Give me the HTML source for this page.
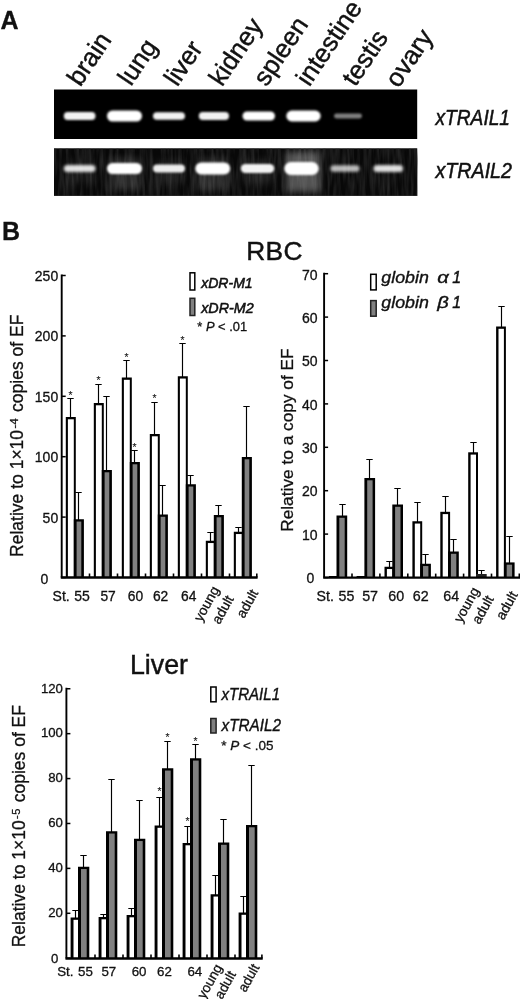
<!DOCTYPE html>
<html lang="en"><head><meta charset="utf-8"><title>Figure</title>
<style>html,body{margin:0;padding:0;background:#fff;overflow:hidden}svg{display:block}text{font-family:"Liberation Sans", sans-serif;fill:#111;stroke:#111;stroke-width:.3px}.h{stroke-width:.45px}</style>
</head><body>
<svg width="520" height="999" viewBox="0 0 520 999">
<defs><filter id="b1" x="-20%" y="-60%" width="140%" height="220%"><feGaussianBlur stdDeviation="1.3"/></filter><filter id="b2" x="-20%" y="-80%" width="140%" height="260%"><feGaussianBlur stdDeviation="1.6"/></filter><filter id="b3" x="-30%" y="-30%" width="160%" height="160%"><feGaussianBlur stdDeviation="3.5"/></filter><filter id="nz" x="0" y="0" width="100%" height="100%" color-interpolation-filters="sRGB"><feTurbulence type="fractalNoise" baseFrequency="0.3 0.035" numOctaves="2" seed="7"/><feColorMatrix type="matrix" values="0 0 0 0 0.22  0 0 0 0 0.22  0 0 0 0 0.22  1.2 0 0 0 -0.4"/></filter></defs>
<rect width="520" height="999" fill="#fff"/>
<text x="0.4" y="29.4" font-size="25" font-weight="bold">A</text>
<text x="1.9" y="240" font-size="25" font-weight="bold">B</text>
<text x="80.3" y="87.5" font-size="25.8" transform="rotate(-56 80.3 87.5)" class="h">brain</text>
<text x="131" y="87" font-size="25.8" transform="rotate(-56 131 87)" class="h">lung</text>
<text x="177.2" y="87.5" font-size="25.8" transform="rotate(-56 177.2 87.5)" class="h">liver</text>
<text x="222" y="87.5" font-size="25.8" transform="rotate(-56 222 87.5)" class="h">kidney</text>
<text x="266.5" y="87.5" font-size="25.8" transform="rotate(-56 266.5 87.5)" class="h">spleen</text>
<text x="309.3" y="87.5" font-size="25.8" transform="rotate(-56 309.3 87.5)" class="h">intestine</text>
<text x="355.3" y="87.5" font-size="25.8" transform="rotate(-56 355.3 87.5)" class="h">testis</text>
<text x="398.6" y="89" font-size="25.8" transform="rotate(-56 398.6 89)" class="h">ovary</text>
<rect x="54" y="89.5" width="363.2" height="49.5" fill="#000"/>
<rect x="54" y="148.3" width="363.2" height="47.6" fill="#080808"/>
<rect x="54" y="148.3" width="363.2" height="47.6" filter="url(#nz)"/>
<clipPath id="g2"><rect x="54" y="148" width="363.5" height="48"/></clipPath>
<g clip-path="url(#g2)">
<rect x="286" y="152" width="34" height="40" fill="#fff" opacity="0.3" filter="url(#b3)"/>
<rect x="109" y="158" width="32" height="32" fill="#fff" opacity="0.13" filter="url(#b3)"/>
<rect x="197" y="158" width="32" height="32" fill="#fff" opacity="0.13" filter="url(#b3)"/>
<rect x="243" y="160" width="30" height="24" fill="#fff" opacity="0.08" filter="url(#b3)"/>
<rect x="66" y="160" width="28" height="24" fill="#fff" opacity="0.05" filter="url(#b3)"/>
<rect x="155" y="160" width="29" height="24" fill="#fff" opacity="0.06" filter="url(#b3)"/>
</g>
<rect x="63.8" y="112.1" width="31.700000000000003" height="7.8" rx="3.9" fill="#fff" opacity="0.95" filter="url(#b1)"/>
<rect x="107" y="110.5" width="35" height="11" rx="5.5" fill="#fff" opacity="1" filter="url(#b1)"/>
<rect x="153" y="112.2" width="32" height="7.6" rx="3.8" fill="#fff" opacity="0.95" filter="url(#b1)"/>
<rect x="198.8" y="112.0" width="30.19999999999999" height="8" rx="4.0" fill="#fff" opacity="0.95" filter="url(#b1)"/>
<rect x="242.5" y="111.4" width="32.5" height="9.2" rx="4.6" fill="#fff" opacity="1" filter="url(#b1)"/>
<rect x="286.3" y="110.6" width="34.39999999999998" height="10.8" rx="5.4" fill="#fff" opacity="1" filter="url(#b1)"/>
<rect x="334" y="113.6" width="28" height="4.8" rx="2.4" fill="#fff" opacity="0.5" filter="url(#b1)"/>
<rect x="63.8" y="164.90" width="31.70" height="7.20" rx="3.60" fill="#fff" opacity="0.87" filter="url(#b2)"/>
<rect x="107" y="163.00" width="35.00" height="11.00" rx="5.50" fill="#fff" opacity="1.00" filter="url(#b1)"/>
<rect x="153" y="164.40" width="32.00" height="8.20" rx="4.10" fill="#fff" opacity="0.92" filter="url(#b1)"/>
<rect x="195.3" y="162.50" width="34.90" height="12.00" rx="6.00" fill="#fff" opacity="1.00" filter="url(#b1)"/>
<rect x="240.8" y="163.90" width="33.50" height="9.20" rx="4.60" fill="#fff" opacity="0.95" filter="url(#b1)"/>
<rect x="284.3" y="162.00" width="34.40" height="13.00" rx="6.50" fill="#fff" opacity="1.00" filter="url(#b1)"/>
<rect x="330.5" y="165.30" width="29.00" height="6.40" rx="3.20" fill="#fff" opacity="0.72" filter="url(#b2)"/>
<rect x="373.5" y="164.90" width="29.50" height="7.20" rx="3.60" fill="#fff" opacity="0.87" filter="url(#b2)"/>
<text x="435.5" y="125.2" font-size="21.5" font-style="italic" textLength="74.5" lengthAdjust="spacingAndGlyphs" style="stroke-width:0.5px">xTRAIL1</text>
<text x="435.5" y="177.7" font-size="21.5" font-style="italic" textLength="76.5" lengthAdjust="spacingAndGlyphs" style="stroke-width:0.5px">xTRAIL2</text>
<path d="M70.50 418.00V398.50M67.30 398.50H73.70" stroke="#000" stroke-width="1.15" fill="none"/>
<text x="70.5" y="398.9" font-size="10.3" text-anchor="middle" style="stroke-width:0.1px">*</text>
<path d="M78.50 520.25V492.50M75.30 492.50H81.70" stroke="#000" stroke-width="1.15" fill="none"/>
<rect x="65.80" y="417.00" width="10.00" height="160.50" fill="#000"/>
<rect x="67.90" y="419.30" width="5.90" height="158.20" fill="#fff"/>
<rect x="73.80" y="519.25" width="10.10" height="58.25" fill="#000"/>
<rect x="76.60" y="521.55" width="4.70" height="55.95" fill="#808080"/>
<path d="M98.50 404.00V384.50M95.30 384.50H101.70" stroke="#000" stroke-width="1.15" fill="none"/>
<text x="98.5" y="383.9" font-size="10.3" text-anchor="middle" style="stroke-width:0.1px">*</text>
<path d="M106.50 471.00V396.50M103.30 396.50H109.70" stroke="#000" stroke-width="1.15" fill="none"/>
<rect x="93.80" y="403.00" width="10.00" height="174.50" fill="#000"/>
<rect x="95.90" y="405.30" width="5.90" height="172.20" fill="#fff"/>
<rect x="101.80" y="470.00" width="10.10" height="107.50" fill="#000"/>
<rect x="104.60" y="472.30" width="4.70" height="105.20" fill="#808080"/>
<path d="M126.50 378.50V360.50M123.30 360.50H129.70" stroke="#000" stroke-width="1.15" fill="none"/>
<text x="126.5" y="360.65" font-size="10.3" text-anchor="middle" style="stroke-width:0.1px">*</text>
<path d="M134.50 463.00V450.50M131.30 450.50H137.70" stroke="#000" stroke-width="1.15" fill="none"/>
<text x="134.5" y="450.9" font-size="10.3" text-anchor="middle" style="stroke-width:0.1px">*</text>
<rect x="121.80" y="377.50" width="10.00" height="200.00" fill="#000"/>
<rect x="123.90" y="379.80" width="5.90" height="197.70" fill="#fff"/>
<rect x="129.80" y="462.00" width="10.10" height="115.50" fill="#000"/>
<rect x="132.60" y="464.30" width="4.70" height="113.20" fill="#808080"/>
<path d="M154.50 435.00V402.50M151.30 402.50H157.70" stroke="#000" stroke-width="1.15" fill="none"/>
<text x="154.5" y="402.4" font-size="10.3" text-anchor="middle" style="stroke-width:0.1px">*</text>
<path d="M162.50 515.50V485.50M159.30 485.50H165.70" stroke="#000" stroke-width="1.15" fill="none"/>
<rect x="149.80" y="434.00" width="10.00" height="143.50" fill="#000"/>
<rect x="151.90" y="436.30" width="5.90" height="141.20" fill="#fff"/>
<rect x="157.80" y="514.50" width="10.10" height="63.00" fill="#000"/>
<rect x="160.60" y="516.80" width="4.70" height="60.70" fill="#808080"/>
<path d="M182.50 377.25V343.50M179.30 343.50H185.70" stroke="#000" stroke-width="1.15" fill="none"/>
<text x="182.5" y="343.65" font-size="10.3" text-anchor="middle" style="stroke-width:0.1px">*</text>
<path d="M190.50 485.25V475.50M187.30 475.50H193.70" stroke="#000" stroke-width="1.15" fill="none"/>
<rect x="177.80" y="376.25" width="10.00" height="201.25" fill="#000"/>
<rect x="179.90" y="378.55" width="5.90" height="198.95" fill="#fff"/>
<rect x="185.80" y="484.25" width="10.10" height="93.25" fill="#000"/>
<rect x="188.60" y="486.55" width="4.70" height="90.95" fill="#808080"/>
<path d="M210.50 541.75V532.50M207.30 532.50H213.70" stroke="#000" stroke-width="1.15" fill="none"/>
<path d="M218.50 516.00V505.50M215.30 505.50H221.70" stroke="#000" stroke-width="1.15" fill="none"/>
<rect x="205.80" y="540.75" width="10.00" height="36.75" fill="#000"/>
<rect x="207.90" y="543.05" width="5.90" height="34.45" fill="#fff"/>
<rect x="213.80" y="515.00" width="10.10" height="62.50" fill="#000"/>
<rect x="216.60" y="517.30" width="4.70" height="60.20" fill="#808080"/>
<path d="M238.50 532.75V527.50M235.30 527.50H241.70" stroke="#000" stroke-width="1.15" fill="none"/>
<path d="M246.50 458.00V406.50M243.30 406.50H249.70" stroke="#000" stroke-width="1.15" fill="none"/>
<rect x="233.80" y="531.75" width="10.00" height="45.75" fill="#000"/>
<rect x="235.90" y="534.05" width="5.90" height="43.45" fill="#fff"/>
<rect x="241.80" y="457.00" width="10.10" height="120.50" fill="#000"/>
<rect x="244.60" y="459.30" width="4.70" height="118.20" fill="#808080"/>
<path d="M61.7 274.6V577.5" stroke="#000" stroke-width="1.9" fill="none"/>
<path d="M60.75 577.5H257.6" stroke="#000" stroke-width="2.4" fill="none"/>
<path d="M89.5 577.5v-4" stroke="#000" stroke-width="1.6" fill="none"/>
<path d="M117.5 577.5v-4" stroke="#000" stroke-width="1.6" fill="none"/>
<path d="M145.5 577.5v-4" stroke="#000" stroke-width="1.6" fill="none"/>
<path d="M173.5 577.5v-4" stroke="#000" stroke-width="1.6" fill="none"/>
<path d="M201.5 577.5v-4" stroke="#000" stroke-width="1.6" fill="none"/>
<path d="M229.5 577.5v-4" stroke="#000" stroke-width="1.6" fill="none"/>
<path d="M256.8 577.5v-4" stroke="#000" stroke-width="1.6" fill="none"/>
<path d="M61.7 577.50h4" stroke="#000" stroke-width="1.5"/>
<text x="48.4" y="583.9" font-size="14" text-anchor="end">0</text>
<path d="M61.7 517.10h4" stroke="#000" stroke-width="1.5"/>
<text x="58.2" y="522.5" font-size="14" text-anchor="end">50</text>
<path d="M61.7 456.70h4" stroke="#000" stroke-width="1.5"/>
<text x="58.2" y="462.1" font-size="14" text-anchor="end">100</text>
<path d="M61.7 396.30h4" stroke="#000" stroke-width="1.5"/>
<text x="58.2" y="401.7" font-size="14" text-anchor="end">150</text>
<path d="M61.7 335.90h4" stroke="#000" stroke-width="1.5"/>
<text x="58.2" y="341.3" font-size="14" text-anchor="end">200</text>
<path d="M61.7 275.50h4" stroke="#000" stroke-width="1.5"/>
<text x="58.2" y="280.9" font-size="14" text-anchor="end">250</text>
<text x="23.5" y="556.9" font-size="17.5" transform="rotate(-90 23.5 556.9)">Relative to 1×10<tspan font-size="11" dy="-5.6" dx="1.4">-</tspan><tspan font-size="11" dx="0.4">4</tspan><tspan dy="5.6" dx="1.6"> copies of EF</tspan></text>
<text x="52.6" y="600.7" font-size="14">St.</text>
<text x="89.9" y="600.7" font-size="14" text-anchor="end">55</text>
<text x="108.1" y="600.7" font-size="13.8" text-anchor="middle">57</text>
<text x="135.4" y="600.7" font-size="13.8" text-anchor="middle">60</text>
<text x="160.6" y="600.7" font-size="13.8" text-anchor="middle">62</text>
<text x="188.8" y="600.7" font-size="13.8" text-anchor="middle">64</text>
<text x="201.5" y="622.5" font-size="13.8" transform="rotate(-61 201.5 622.5)">young</text>
<text x="219.5" y="625" font-size="13.8" transform="rotate(-61 219.5 625)">adult</text>
<text x="244" y="619" font-size="13.8" transform="rotate(-61 244 619)">adult</text>
<rect x="190" y="272.8" width="4.8" height="17.2" fill="#fff" stroke="#000" stroke-width="1.5"/>
<rect x="190" y="298.3" width="4.8" height="17.2" fill="#808080" stroke="#222" stroke-width="1.5"/>
<text x="201.2" y="287.6" font-size="15" font-style="italic" textLength="51.5" lengthAdjust="spacingAndGlyphs" style="stroke-width:0.55px">xDR-M1</text>
<text x="201.2" y="312.6" font-size="15" font-style="italic" textLength="52.5" lengthAdjust="spacingAndGlyphs" style="stroke-width:0.55px">xDR-M2</text>
<text x="197.3" y="331.2" font-size="12.9">* <tspan font-style="italic">P</tspan> &lt; .01</text>
<text x="274.6" y="259.8" font-size="26.3" text-anchor="middle" letter-spacing="0.4" class="h">RBC</text>
<path d="M342.50 516.50V504.50M339.30 504.50H345.70" stroke="#000" stroke-width="1.15" fill="none"/>
<rect x="328.70" y="576.00" width="8.80" height="1.60" fill="#000"/>
<rect x="336.50" y="515.50" width="10.70" height="62.10" fill="#000"/>
<rect x="339.30" y="517.80" width="5.40" height="59.80" fill="#808080"/>
<path d="M369.50 479.00V459.50M366.30 459.50H372.70" stroke="#000" stroke-width="1.15" fill="none"/>
<rect x="356.60" y="576.00" width="8.80" height="1.60" fill="#000"/>
<rect x="364.40" y="478.00" width="10.70" height="99.60" fill="#000"/>
<rect x="367.20" y="480.30" width="5.40" height="97.30" fill="#808080"/>
<path d="M389.50 567.75V561.50M386.30 561.50H392.70" stroke="#000" stroke-width="1.15" fill="none"/>
<path d="M397.50 505.50V488.50M394.30 488.50H400.70" stroke="#000" stroke-width="1.15" fill="none"/>
<rect x="384.50" y="566.75" width="9.80" height="10.85" fill="#000"/>
<rect x="386.90" y="569.05" width="5.40" height="8.55" fill="#fff"/>
<rect x="392.30" y="504.50" width="10.70" height="73.10" fill="#000"/>
<rect x="395.10" y="506.80" width="5.40" height="70.80" fill="#808080"/>
<path d="M417.50 522.25V502.50M414.30 502.50H420.70" stroke="#000" stroke-width="1.15" fill="none"/>
<path d="M425.50 564.75V554.50M422.30 554.50H428.70" stroke="#000" stroke-width="1.15" fill="none"/>
<rect x="412.40" y="521.25" width="9.80" height="56.35" fill="#000"/>
<rect x="414.80" y="523.55" width="5.40" height="54.05" fill="#fff"/>
<rect x="420.20" y="563.75" width="10.70" height="13.85" fill="#000"/>
<rect x="423.00" y="566.05" width="5.40" height="11.55" fill="#808080"/>
<path d="M445.50 512.80V496.50M442.30 496.50H448.70" stroke="#000" stroke-width="1.15" fill="none"/>
<path d="M453.50 552.50V539.50M450.30 539.50H456.70" stroke="#000" stroke-width="1.15" fill="none"/>
<rect x="440.30" y="511.80" width="9.80" height="65.80" fill="#000"/>
<rect x="442.70" y="514.10" width="5.40" height="63.50" fill="#fff"/>
<rect x="448.10" y="551.50" width="10.70" height="26.10" fill="#000"/>
<rect x="450.90" y="553.80" width="5.40" height="23.80" fill="#808080"/>
<path d="M473.50 453.30V442.50M470.30 442.50H476.70" stroke="#000" stroke-width="1.15" fill="none"/>
<path d="M481.50 575.00V570.50M478.30 570.50H484.70" stroke="#000" stroke-width="1.15" fill="none"/>
<rect x="468.20" y="452.30" width="9.80" height="125.30" fill="#000"/>
<rect x="470.60" y="454.60" width="5.40" height="123.00" fill="#fff"/>
<rect x="476.00" y="574.00" width="10.70" height="3.60" fill="#222"/>
<path d="M501.50 327.50V306.50M498.30 306.50H504.70" stroke="#000" stroke-width="1.15" fill="none"/>
<path d="M509.50 563.40V536.50M506.30 536.50H512.70" stroke="#000" stroke-width="1.15" fill="none"/>
<rect x="496.10" y="326.50" width="9.80" height="251.10" fill="#000"/>
<rect x="498.50" y="328.80" width="5.40" height="248.80" fill="#fff"/>
<rect x="503.90" y="562.40" width="10.70" height="15.20" fill="#000"/>
<rect x="506.70" y="564.70" width="5.40" height="12.90" fill="#808080"/>
<path d="M324.1 272.85V577.6" stroke="#000" stroke-width="1.9" fill="none"/>
<path d="M323.15000000000003 577.6H520" stroke="#000" stroke-width="2.1" fill="none"/>
<path d="M352.0 577.6v-4" stroke="#000" stroke-width="1.6" fill="none"/>
<path d="M379.9 577.6v-4" stroke="#000" stroke-width="1.6" fill="none"/>
<path d="M407.8 577.6v-4" stroke="#000" stroke-width="1.6" fill="none"/>
<path d="M435.7 577.6v-4" stroke="#000" stroke-width="1.6" fill="none"/>
<path d="M463.6 577.6v-4" stroke="#000" stroke-width="1.6" fill="none"/>
<path d="M491.5 577.6v-4" stroke="#000" stroke-width="1.6" fill="none"/>
<path d="M519.3 577.6v-4" stroke="#000" stroke-width="1.6" fill="none"/>
<path d="M324.1 577.50h4" stroke="#000" stroke-width="1.5"/>
<text x="314.3" y="583.1" font-size="14" text-anchor="end">0</text>
<path d="M324.1 534.10h4" stroke="#000" stroke-width="1.5"/>
<text x="317.5" y="539.7" font-size="14" text-anchor="end">10</text>
<path d="M324.1 490.70h4" stroke="#000" stroke-width="1.5"/>
<text x="317.5" y="496.3" font-size="14" text-anchor="end">20</text>
<path d="M324.1 447.30h4" stroke="#000" stroke-width="1.5"/>
<text x="317.5" y="452.9" font-size="14" text-anchor="end">30</text>
<path d="M324.1 403.90h4" stroke="#000" stroke-width="1.5"/>
<text x="317.5" y="409.5" font-size="14" text-anchor="end">40</text>
<path d="M324.1 360.50h4" stroke="#000" stroke-width="1.5"/>
<text x="317.5" y="366.1" font-size="14" text-anchor="end">50</text>
<path d="M324.1 317.10h4" stroke="#000" stroke-width="1.5"/>
<text x="317.5" y="322.7" font-size="14" text-anchor="end">60</text>
<path d="M324.1 273.70h4" stroke="#000" stroke-width="1.5"/>
<text x="317.5" y="280.3" font-size="14" text-anchor="end">70</text>
<text x="293.1" y="531.8" font-size="17.3" transform="rotate(-90 293.1 531.8)">Relative to a copy of EF</text>
<text x="316.5" y="600.7" font-size="14.2">St.</text>
<text x="354.4" y="600.7" font-size="14.2" text-anchor="end">55</text>
<text x="370.1" y="600.7" font-size="14.3" text-anchor="middle">57</text>
<text x="396.2" y="600.7" font-size="14.3" text-anchor="middle">60</text>
<text x="420.8" y="600.7" font-size="14.3" text-anchor="middle">62</text>
<text x="451.3" y="600.7" font-size="14.3" text-anchor="middle">64</text>
<text x="461.5" y="623.5" font-size="13.8" transform="rotate(-61 461.5 623.5)">young</text>
<text x="479.5" y="625.0" font-size="13.8" transform="rotate(-61 479.5 625.0)">adult</text>
<text x="503.5" y="620.8" font-size="13.8" transform="rotate(-61 503.5 620.8)">adult</text>
<rect x="370.7" y="274.3" width="5.5" height="15.6" fill="#fff" stroke="#000" stroke-width="1.5"/>
<rect x="370.7" y="300.6" width="5.5" height="15.6" fill="#808080" stroke="#222" stroke-width="1.5"/>
<text x="381.3" y="283" font-size="16" font-style="italic" textLength="47.5" lengthAdjust="spacingAndGlyphs" style="stroke-width:0.35px">globin</text>
<text x="437.3" y="283" font-size="16" font-style="italic" textLength="11.5" lengthAdjust="spacingAndGlyphs" style="stroke-width:0.35px">α</text>
<text x="452.3" y="283" font-size="16" font-style="italic" style="stroke-width:0.35px">1</text>
<text x="381.3" y="307.5" font-size="16" font-style="italic" textLength="47.5" lengthAdjust="spacingAndGlyphs" style="stroke-width:0.35px">globin</text>
<text x="437.3" y="307.5" font-size="16" font-style="italic" textLength="11.5" lengthAdjust="spacingAndGlyphs" style="stroke-width:0.35px">β</text>
<text x="452.3" y="307.5" font-size="16" font-style="italic" style="stroke-width:0.35px">1</text>
<path d="M75.50 918.50V910.50M72.30 910.50H78.70" stroke="#000" stroke-width="1.15" fill="none"/>
<path d="M83.50 867.75V855.50M80.30 855.50H86.70" stroke="#000" stroke-width="1.15" fill="none"/>
<rect x="70.60" y="917.50" width="9.60" height="40.90" fill="#000"/>
<rect x="73.50" y="919.80" width="4.50" height="38.60" fill="#fff"/>
<rect x="78.00" y="866.75" width="11.30" height="91.65" fill="#000"/>
<rect x="81.00" y="869.05" width="5.70" height="89.35" fill="#808080"/>
<path d="M103.50 918.00V914.50M100.30 914.50H106.70" stroke="#000" stroke-width="1.15" fill="none"/>
<path d="M111.50 832.25V779.50M108.30 779.50H114.70" stroke="#000" stroke-width="1.15" fill="none"/>
<rect x="98.60" y="917.00" width="9.60" height="41.40" fill="#000"/>
<rect x="101.50" y="919.30" width="4.50" height="39.10" fill="#fff"/>
<rect x="106.00" y="831.25" width="11.30" height="127.15" fill="#000"/>
<rect x="109.00" y="833.55" width="5.70" height="124.85" fill="#808080"/>
<path d="M131.50 916.00V908.50M128.30 908.50H134.70" stroke="#000" stroke-width="1.15" fill="none"/>
<path d="M139.50 839.75V800.50M136.30 800.50H142.70" stroke="#000" stroke-width="1.15" fill="none"/>
<rect x="126.60" y="915.00" width="9.60" height="43.40" fill="#000"/>
<rect x="129.50" y="917.30" width="4.50" height="41.10" fill="#fff"/>
<rect x="134.00" y="838.75" width="11.30" height="119.65" fill="#000"/>
<rect x="137.00" y="841.05" width="5.70" height="117.35" fill="#808080"/>
<path d="M159.50 826.50V797.50M156.30 797.50H162.70" stroke="#000" stroke-width="1.15" fill="none"/>
<text x="159.5" y="794.9" font-size="10.3" text-anchor="middle" style="stroke-width:0.1px">*</text>
<path d="M167.50 769.25V741.50M164.30 741.50H170.70" stroke="#000" stroke-width="1.15" fill="none"/>
<text x="167.5" y="741.15" font-size="10.3" text-anchor="middle" style="stroke-width:0.1px">*</text>
<rect x="154.60" y="825.50" width="9.60" height="132.90" fill="#000"/>
<rect x="157.50" y="827.80" width="4.50" height="130.60" fill="#fff"/>
<rect x="162.00" y="768.25" width="11.30" height="190.15" fill="#000"/>
<rect x="165.00" y="770.55" width="5.70" height="187.85" fill="#808080"/>
<path d="M187.50 844.00V826.50M184.30 826.50H190.70" stroke="#000" stroke-width="1.15" fill="none"/>
<text x="187.5" y="824.9" font-size="10.3" text-anchor="middle" style="stroke-width:0.1px">*</text>
<path d="M195.50 759.25V744.50M192.30 744.50H198.70" stroke="#000" stroke-width="1.15" fill="none"/>
<text x="195.5" y="744.9" font-size="10.3" text-anchor="middle" style="stroke-width:0.1px">*</text>
<rect x="182.60" y="843.00" width="9.60" height="115.40" fill="#000"/>
<rect x="185.50" y="845.30" width="4.50" height="113.10" fill="#fff"/>
<rect x="190.00" y="758.25" width="11.30" height="200.15" fill="#000"/>
<rect x="193.00" y="760.55" width="5.70" height="197.85" fill="#808080"/>
<path d="M215.50 895.25V875.50M212.30 875.50H218.70" stroke="#000" stroke-width="1.15" fill="none"/>
<path d="M223.50 843.50V819.50M220.30 819.50H226.70" stroke="#000" stroke-width="1.15" fill="none"/>
<rect x="210.60" y="894.25" width="9.60" height="64.15" fill="#000"/>
<rect x="213.50" y="896.55" width="4.50" height="61.85" fill="#fff"/>
<rect x="218.00" y="842.50" width="11.30" height="115.90" fill="#000"/>
<rect x="221.00" y="844.80" width="5.70" height="113.60" fill="#808080"/>
<path d="M243.50 913.50V896.50M240.30 896.50H246.70" stroke="#000" stroke-width="1.15" fill="none"/>
<path d="M251.50 826.00V765.50M248.30 765.50H254.70" stroke="#000" stroke-width="1.15" fill="none"/>
<rect x="238.60" y="912.50" width="9.60" height="45.90" fill="#000"/>
<rect x="241.50" y="914.80" width="4.50" height="43.60" fill="#fff"/>
<rect x="246.00" y="825.00" width="11.30" height="133.40" fill="#000"/>
<rect x="249.00" y="827.30" width="5.70" height="131.10" fill="#808080"/>
<path d="M66.4 687.85V958.4" stroke="#000" stroke-width="1.9" fill="none"/>
<path d="M65.45 958.4H262.7" stroke="#000" stroke-width="2.5" fill="none"/>
<path d="M95 958.4v-4" stroke="#000" stroke-width="1.6" fill="none"/>
<path d="M123 958.4v-4" stroke="#000" stroke-width="1.6" fill="none"/>
<path d="M151 958.4v-4" stroke="#000" stroke-width="1.6" fill="none"/>
<path d="M179 958.4v-4" stroke="#000" stroke-width="1.6" fill="none"/>
<path d="M207 958.4v-4" stroke="#000" stroke-width="1.6" fill="none"/>
<path d="M235 958.4v-4" stroke="#000" stroke-width="1.6" fill="none"/>
<path d="M261.9 958.4v-4" stroke="#000" stroke-width="1.6" fill="none"/>
<path d="M66.4 958.20h4" stroke="#000" stroke-width="1.5"/>
<text x="58.4" y="962.6" font-size="13.2" text-anchor="end">0</text>
<path d="M66.4 913.29h4" stroke="#000" stroke-width="1.5"/>
<text x="62.9" y="917.09" font-size="13.2" text-anchor="end">20</text>
<path d="M66.4 868.38h4" stroke="#000" stroke-width="1.5"/>
<text x="62.9" y="872.18" font-size="13.2" text-anchor="end">40</text>
<path d="M66.4 823.48h4" stroke="#000" stroke-width="1.5"/>
<text x="62.9" y="827.28" font-size="13.2" text-anchor="end">60</text>
<path d="M66.4 778.57h4" stroke="#000" stroke-width="1.5"/>
<text x="62.9" y="782.37" font-size="13.2" text-anchor="end">80</text>
<path d="M66.4 733.66h4" stroke="#000" stroke-width="1.5"/>
<text x="62.9" y="737.46" font-size="13.2" text-anchor="end">100</text>
<path d="M66.4 688.75h4" stroke="#000" stroke-width="1.5"/>
<text x="62.9" y="692.55" font-size="13.2" text-anchor="end">120</text>
<text x="25.3" y="947.3" font-size="17.5" transform="rotate(-90 25.3 947.3)">Relative to 1×10<tspan font-size="11" dy="-5.6" dx="1.4">-</tspan><tspan font-size="11" dx="0.4">5</tspan><tspan dy="5.6" dx="1.6"> copies of EF</tspan></text>
<text x="57.2" y="975.6" font-size="13.3">St.</text>
<text x="92.8" y="975.6" font-size="13.3" text-anchor="end">55</text>
<text x="108.8" y="975.6" font-size="13.3" text-anchor="middle">57</text>
<text x="139.1" y="975.6" font-size="13.3" text-anchor="middle">60</text>
<text x="164.4" y="975.6" font-size="13.3" text-anchor="middle">62</text>
<text x="194.8" y="975.6" font-size="13.3" text-anchor="middle">64</text>
<text x="204.7" y="999.7" font-size="13.6" transform="rotate(-61 204.7 999.7)">young</text>
<text x="222" y="999.9" font-size="13.6" transform="rotate(-61 222 999.9)">adult</text>
<text x="245.5" y="993.1" font-size="13.6" transform="rotate(-61 245.5 993.1)">adult</text>
<rect x="210.8" y="687" width="5.3" height="14.8" fill="#fff" stroke="#000" stroke-width="1.5"/>
<rect x="210.8" y="718.5" width="5.3" height="14.5" fill="#808080" stroke="#222" stroke-width="1.5"/>
<text x="221.5" y="699.6" font-size="16.2" font-style="italic" textLength="58.5" lengthAdjust="spacingAndGlyphs" style="stroke-width:0.4px">xTRAIL1</text>
<text x="221.5" y="730.8" font-size="16.2" font-style="italic" textLength="59.5" lengthAdjust="spacingAndGlyphs" style="stroke-width:0.4px">xTRAIL2</text>
<text x="221.3" y="750" font-size="13.5">* <tspan font-style="italic">P</tspan> &lt; .05</text>
<text x="159.0" y="674" font-size="26.8" text-anchor="middle" class="h">Liver</text>
</svg></body></html>
